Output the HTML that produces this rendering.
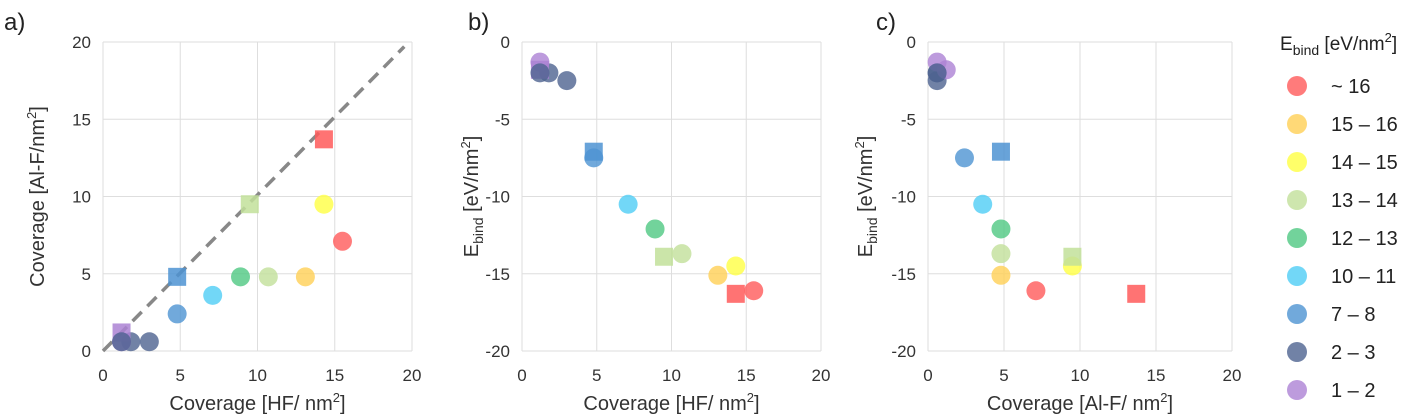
<!DOCTYPE html>
<html><head><meta charset="utf-8"><style>
body{margin:0;background:#fff;}
svg{display:block;font-family:"Liberation Sans",sans-serif;}
</style></head><body>
<svg id="c" width="1409" height="417"></svg>
<script>
const groups=["~ 16","15 – 16","14 – 15","13 – 14","12 – 13","10 – 11","7 – 8","2 – 3","1 – 2"];
const colors=["#ff5a5a","#ffcf55","#ffff44","#c2e09a","#4fc882","#4fcdf5","#4d93d2","#4e6390","#ac82d4"];
const hfVals=[15.5,14.3,13.1,14.3,10.7,9.5,8.9,7.1,4.8,4.8,3.0,1.8,1.2,1.2,1.2];
const alfVals=[7.1,13.7,4.8,9.5,4.8,9.5,4.8,3.6,2.4,4.8,0.6,0.6,0.6,1.2,0.6];
const eVals=[-16.1,-16.3,-15.1,-14.5,-13.7,-13.9,-12.1,-10.5,-7.5,-7.1,-2.5,-2.0,-1.3,-1.8,-2.0];
const groupIdx=[0,0,1,2,3,3,4,5,6,6,7,7,8,8,7];
const shapes=["c","s","c","c","c","s","c","c","c","s","c","c","c","s","c"];
const shapesC=["c","s","c","c","c","s","c","c","c","s","c","c","c","c","c"];
const xTicks=[0,5,10,15,20];
const yTicksA=[0,5,10,15,20];
const yTicksE=[0,-5,-10,-15,-20];
const NS="http://www.w3.org/2000/svg";
const svg=document.getElementById('c');
function el(t,a,p){const e=document.createElementNS(NS,t);for(const k in a)e.setAttribute(k,a[k]);(p||svg).appendChild(e);return e;}
function txt(s,a,p){const e=el('text',a,p);e.innerHTML=s;return e;}
const T=42,B=351;
const sup="<tspan dy='-8' font-size='13'>2</tspan><tspan dy='8'>]</tspan>";
const eb="E<tspan dy='5' font-size='14'>bind</tspan><tspan dy='-5'> [eV/nm</tspan>"+sup;
const panels=[
 {id:"a",L:103,R:412,xs:hfVals,ys:alfVals,sh:shapes,ymin:0,ymax:20,yt:yTicksA,xt:"Coverage [HF/ nm"+sup,yl:"Coverage [Al-F/nm"+sup,ylx:44,lx:4},
 {id:"b",L:522,R:821,xs:hfVals,ys:eVals,sh:shapes,ymin:-20,ymax:0,yt:yTicksE,xt:"Coverage [HF/ nm"+sup,yl:eb,ylx:478,lx:468},
 {id:"c",L:928,R:1232,xs:alfVals,ys:eVals,sh:shapesC,ymin:-20,ymax:0,yt:yTicksE,xt:"Coverage [Al-F/ nm"+sup,yl:eb,ylx:872,lx:876}
];
panels.forEach(p=>{
 const g=el('g',{});
 
 
 const sx=v=>p.L+(v-0)/20*(p.R-p.L);
 const sy=v=>B-(v-p.ymin)/(p.ymax-p.ymin)*(B-T);
 xTicks.forEach(v=>{
  const l=el('line',{x1:sx(v),x2:sx(v),y1:T,y2:B,stroke:"#dedede","stroke-width":1},g);
  
  const t=txt(v,{x:sx(v),y:B+30,"font-size":17,fill:"#333","text-anchor":"middle"},g);
  
 });
 p.yt.forEach(v=>{
  const l=el('line',{x1:p.L,x2:p.R,y1:sy(v),y2:sy(v),stroke:"#dedede","stroke-width":1},g);
  
  const t=txt(v,{x:p.L-12,y:sy(v)+6,"font-size":17,fill:"#333","text-anchor":"end"},g);
  
 });
 const xt=txt(p.xt,{x:(p.L+p.R)/2,y:410,"font-size":20,fill:"#333","text-anchor":"middle"},g);
 
 const yt=txt(p.yl,{x:0,y:0,"font-size":20,fill:"#333","text-anchor":"middle",transform:`translate(${p.ylx},${(T+B)/2}) rotate(-90)`},g);
 
 const lt=txt(p.id+")",{x:p.lx,y:30,"font-size":24,fill:"#222"},g);
 
 if(p.id==="a"){
  const d=el('line',{x1:sx(0),y1:sy(0),x2:sx(19.5),y2:sy(19.7),stroke:"#888","stroke-width":3.5,"stroke-dasharray":"13,8"},g);
  
 }
 p.xs.forEach((xv,i)=>{
  const col=colors[groupIdx[i]];
  let m;
  if(p.sh[i]==="s") m=el('rect',{x:sx(xv)-9,y:sy(p.ys[i])-9,width:18,height:18,fill:col,"fill-opacity":0.85},g);
  else m=el('circle',{cx:sx(xv),cy:sy(p.ys[i]),r:9.5,fill:col,"fill-opacity":0.8},g);
  
  
 });
});
const lg=el('g',{});


const lt=txt("E<tspan dy='5' font-size='14'>bind</tspan><tspan dy='-5'> [eV/nm</tspan><tspan dy='-8' font-size='13'>2</tspan><tspan dy='8'>]</tspan>",{x:1280,y:50,"font-size":19,fill:"#222"},lg);

groups.forEach((gname,i)=>{
 const y=86+i*38;
 const c=el('circle',{cx:1297,cy:y,r:10,fill:colors[i],"fill-opacity":0.8},lg);
 
 const t=txt(gname,{x:1331,y:y+7,"font-size":20,fill:"#222"},lg);
 
});
</script>
</body></html>
